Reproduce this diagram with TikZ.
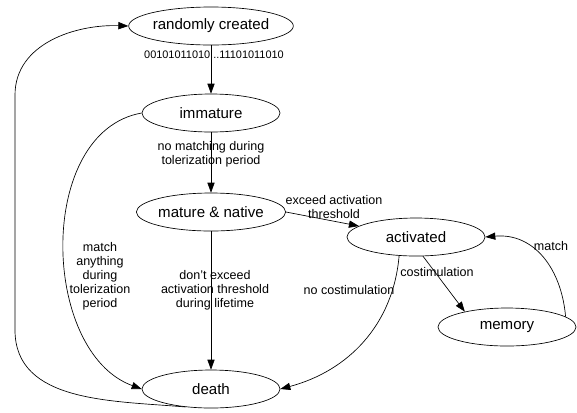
\documentclass[tikz,border=0pt]{standalone}
\usepackage{fontspec}
\setmainfont{Liberation Sans}
\usetikzlibrary{arrows.meta, shapes.geometric}

\begin{document}
\begin{tikzpicture}[
    x=0.75pt, y=0.75pt,
    state/.style={ellipse, draw, line width=0.5pt, minimum width=103.5pt, minimum height=28.5pt, inner sep=0pt, font=\fontsize{11.3}{13}\selectfont},
    arrow/.style={-{Triangle[length=7.5pt, width=5.4pt]}, line width=0.5pt},
    lbl/.style={align=center, inner sep=0pt, font=\fontsize{9.4}{10.5}\selectfont},
]
    \useasboundingbox (0,0) rectangle (577,-412);

    % States of a detector
    \node[state] (rnd) at (211,-26) {randomly created};
    \node[state] (imm) at (211,-113) {immature};
    \node[state] (mat) at (211,-212) {mature \& native};
    \node[state] (act) at (416,-237) {activated};
    \node[state] (mem) at (507,-327) {memory};
    \node[state] (dth) at (211,-389) {death};

    % Transitions
    \draw[arrow] (rnd) -- (imm);
    \draw[arrow] (imm) -- (mat);
    \draw[arrow] (mat.east) -- (act);
    \draw[arrow] (mat) -- (dth);
    \draw[arrow] (act.290) -- (mem.160);
    \draw[arrow] (imm.west) to[out=190, in=160] (dth.west);
    \draw[arrow] (act.228) to[out=265, in=15] (dth.east);
    \draw[arrow] (mem.10) to[out=95, in=5, looseness=1.1] (act.east);
    \draw[arrow] (dth.215) to[out=175, in=-90] (15,-330) -- (15,-95) to[out=90, in=178] (rnd.west);

    % Transition labels
    \node[lbl, font=\fontsize{8.2}{10}\selectfont] (lbits) at (214,-55) {00101011010...11101011010};
    \node[lbl] (lnomatch) at (211,-154) {no matching during\\tolerization period};
    \node[lbl] (lexceed) at (334,-207) {exceed activation\\threshold};
    \node[lbl] (lmatchany) at (100,-276) {match\\anything\\during\\tolerization\\period};
    \node[lbl] (lnoexceed) at (215,-290) {don't exceed\\activation threshold\\during lifetime};
    \node[lbl] (lnocost) at (349,-290) {no costimulation};
    \node[lbl] (lcost) at (437,-272) {costimulation};
    \node[lbl] (lmatch) at (551,-246) {match};
\end{tikzpicture}
\end{document}
